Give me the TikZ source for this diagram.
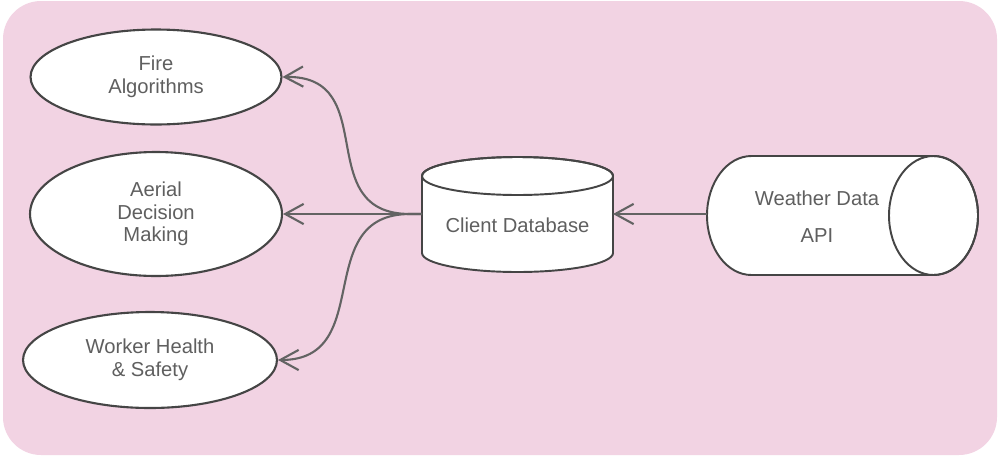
\documentclass[tikz,border=0pt]{standalone}
\usepackage{fontspec}
\setmainfont{Liberation Sans}
\usetikzlibrary{shapes.geometric,arrows.meta}
\definecolor{panel}{HTML}{F2D3E3}
\definecolor{ink}{HTML}{5F5F5F}
\definecolor{edge}{HTML}{454545}
\definecolor{wire}{HTML}{636363}
\tikzset{
  lbl/.style={font=\fontsize{11.5pt}{12.8pt}\selectfont, text=ink, align=center, inner sep=0pt},
  oval/.style={ellipse, draw=edge, line width=1.2pt, fill=white, inner sep=0pt},
  tank/.style={draw=edge, line width=1.1pt, fill=white},
  flow/.style={draw=wire, line width=1.2pt, -{Straight Barb[length=10.5pt,width=11.5pt,line width=1.2pt]}},
}
\begin{document}
\begin{tikzpicture}[x=0.02cm, y=-0.02cm]
  \useasboundingbox (0,0) rectangle (1000,457);
  % pink panel
  \fill[panel, rounded corners=0.76cm] (3,1) rectangle (997,455);

  % consumers
  \node[oval, minimum width=5.02cm, minimum height=1.9cm] (fire) at (156,77) {};
  \node[lbl] at (fire.center) {Fire\\Algorithms};
  \node[oval, minimum width=5.04cm, minimum height=2.48cm] (aerial) at (156,214) {};
  \node[lbl] at (aerial.center) {Aerial\\Decision\\Making};
  \node[oval, minimum width=5.08cm, minimum height=1.92cm] (worker) at (150,360) {};
  \node[lbl] at (worker.center) {Worker Health\\\& Safety};

  % client database (upright cylinder)
  \path[tank] (422,176) -- (422,253)
     arc[start angle=180, end angle=0, x radius=95.5, y radius=19]
     -- (613,176)
     arc[start angle=0, end angle=-180, x radius=95.5, y radius=19] -- cycle;
  \draw[draw=edge, line width=1.1pt] (517.5,176) ellipse[x radius=95.5, y radius=19];
  \node[lbl, minimum width=3.82cm] (db) at (517.5,225) {Client Database};
  \coordinate (dbW) at (422,214);
  \coordinate (dbE) at (613,214);
  \coordinate (hub) at (410,214);

  % weather data API (lying cylinder)
  \path[tank] (933.5,156) -- (751.5,156)
     arc[start angle=270, end angle=90, x radius=44.5, y radius=59.5]
     -- (933.5,275)
     arc[start angle=90, end angle=-90, x radius=44.5, y radius=59.5] -- cycle;
  \draw[draw=edge, line width=1.1pt] (933.5,215.5) ellipse[x radius=44.5, y radius=59.5];
  \node[lbl, font=\fontsize{11.5pt}{21pt}\selectfont] (api) at (817,216.5) {Weather Data\\API};
  \coordinate (apiW) at (707,214);

  % connectors
  \draw[flow] (apiW) -- (dbE);
  \draw[flow] (dbW) -- (hub) .. controls (310,214) and (383,75) .. (fire.east);
  \draw[flow] (dbW) -- (aerial.east);
  \draw[flow] (dbW) -- (hub) .. controls (310,214) and (377,360) .. (worker.east);
\end{tikzpicture}
\end{document}
